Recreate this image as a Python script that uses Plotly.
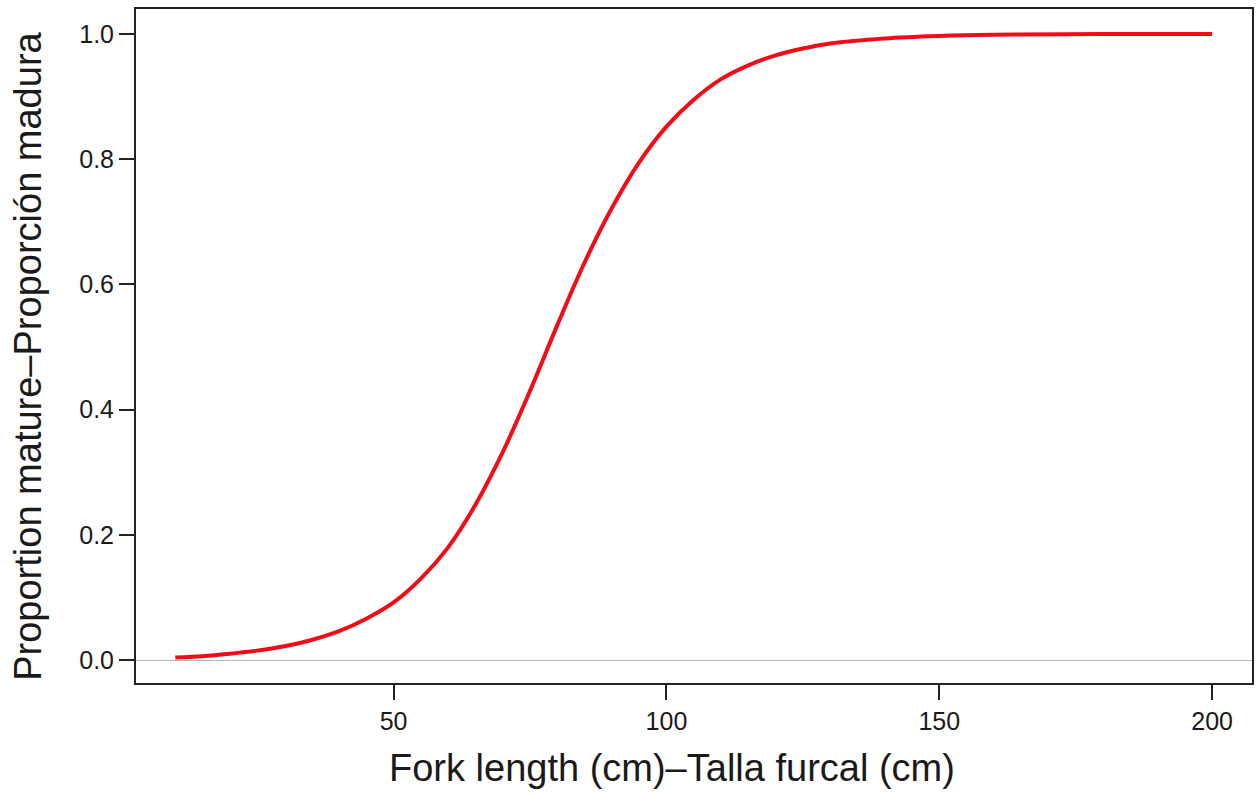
import plotly.graph_objects as go

# Fork length (cm) and proportion mature read along the maturity ogive
fork_length = [10, 15, 20, 25, 30, 35, 40, 45, 50, 55, 60, 65, 70, 75, 80,
               85, 90, 95, 100, 105, 110, 115, 120, 125, 130, 140, 150, 160,
               180, 200]
prop_mature = [0.004, 0.006, 0.010, 0.015, 0.022, 0.032, 0.046, 0.066, 0.092,
               0.130, 0.180, 0.248, 0.332, 0.430, 0.535, 0.635, 0.722, 0.795,
               0.852, 0.895, 0.928, 0.950, 0.966, 0.977, 0.985, 0.993, 0.997,
               0.999, 1.000, 1.000]

x_ticks = [50, 100, 150, 200]
y_ticks = [0.0, 0.2, 0.4, 0.6, 0.8, 1.0]
y_tick_text = ["0.0", "0.2", "0.4", "0.6", "0.8", "1.0"]

font_family = "Liberation Sans, Arial, sans-serif"
ink = "#1a1a1a"

fig = go.Figure()
fig.add_trace(go.Scatter(
    x=fork_length, y=prop_mature, mode="lines",
    line=dict(color="#f20c18", width=4, shape="spline", smoothing=1.0),
    showlegend=False, hoverinfo="skip",
))

fig.update_layout(
    width=1258, height=794,
    margin=dict(l=136, r=4, t=9, b=111),
    paper_bgcolor="white", plot_bgcolor="white",
    font=dict(family=font_family, color=ink),
    xaxis=dict(
        range=[2.8, 207.3], tickvals=x_ticks, ticks="outside", ticklen=15,
        tickwidth=1.5, tickcolor="#222", showgrid=False, zeroline=False,
        showline=True, linecolor="#222", linewidth=2, mirror=True,
        tickfont=dict(size=25, family=font_family, color=ink),
    ),
    yaxis=dict(
        range=[-0.0367, 1.04], tickvals=y_ticks, ticktext=y_tick_text,
        ticks="outside", ticklen=15, tickwidth=1.5, tickcolor="#222",
        showgrid=False, zeroline=True, zerolinecolor="#b5b5b5", zerolinewidth=1,
        showline=True, linecolor="#222", linewidth=2, mirror=True,
        tickfont=dict(size=25, family=font_family, color=ink),
    ),
    annotations=[
        dict(text="Fork length (cm)–Talla furcal (cm)", xref="paper", yref="paper",
             x=0.480, y=0, yshift=-85, xanchor="center", yanchor="middle",
             showarrow=False, font=dict(size=38, family=font_family, color=ink)),
        dict(text="Proportion mature–Proporción madura", xref="paper", yref="paper",
             x=0, y=0.484, xshift=-108, xanchor="center", yanchor="middle",
             textangle=-90, showarrow=False,
             font=dict(size=38, family=font_family, color=ink)),
    ],
)

fig.write_html("out.html")
